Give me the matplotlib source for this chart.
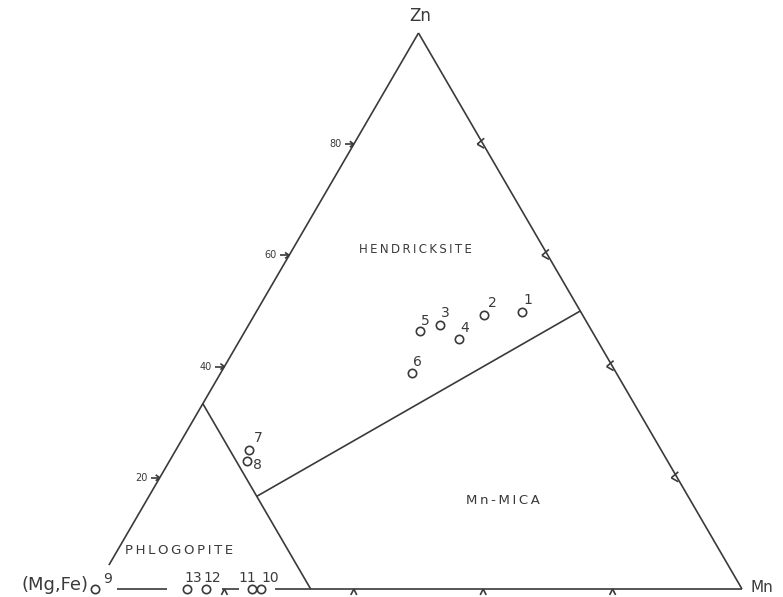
import numpy as np
import matplotlib.pyplot as plt

# compositions (fractions; Mg+Fe = 1 - Zn - Mn)
labels = ["1", "2", "3", "4", "5", "6", "7", "8", "9", "10", "11", "12", "13"]
zn = [0.499, 0.493, 0.475, 0.450, 0.464, 0.389, 0.250, 0.230, 0.0, 0.0, 0.0, 0.0, 0.0]
mn = [0.410, 0.355, 0.295, 0.338, 0.271, 0.295, 0.113, 0.120, 0.0, 0.257, 0.243, 0.171, 0.142]
# label offsets (pixels, right / down) for each sample number
label_off = [(6, -12), (8, -12), (6, -12), (5, -11), (5, -10), (6, -11), (9, -12),
             (10, 4), (13, -10), (9, -11), (-5, -11), (7, -11), (6, -11)]
tick_vals = [0.2, 0.4, 0.6, 0.8]
tick_text = ["20", "40", "60", "80"]

H = np.sqrt(3) / 2
INK = "#3a3a3a"
PX = 1 / 647.0  # one pixel in data units
THIN = "\u2009"


def xy(z, m):
    # ternary -> cartesian, Mg/Fe at left, Mn at right, Zn on top
    return m + z / 2.0, z * H


def seg(ax, a, b):
    ax.plot([a[0], b[0]], [a[1], b[1]], color=INK, lw=1.2,
            solid_capstyle="butt", clip_on=False)


def spaced(s):
    return THIN.join(s)


fig = plt.figure(figsize=(7.83, 5.97), dpi=100)
ax = fig.add_axes([95 / 783, 8 / 597, 647 / 783, 556 / 597])
ax.set_xlim(0, 1)
ax.set_ylim(0, H)
ax.axis("off")

# triangle outline (small gaps near the labelled points, as in the original)
seg(ax, xy(1, 0), xy(0.043, 0))
seg(ax, xy(1, 0), xy(0, 1))
for lo, hi in [(0.034, 0.111), (0.196, 0.222), (0.278, 1.0)]:
    seg(ax, xy(0, lo), xy(0, hi))

# field boundaries: Mg+Fe = 2/3 and Zn = Mn
seg(ax, xy(1 / 3, 0), xy(0, 1 / 3))
seg(ax, xy(1 / 6, 1 / 6), xy(0.5, 0.5))

# ticks
for v, t in zip(tick_vals, tick_text):
    # left edge (Zn scale)
    px_, py_ = xy(v, 0)
    seg(ax, (px_ - 9 * PX, py_), (px_, py_))
    seg(ax, (px_ - 4 * PX, py_ + 3 * PX), (px_, py_))
    seg(ax, (px_ - 4 * PX, py_ - 3 * PX), (px_, py_))
    ax.annotate(t, (px_, py_), xytext=(-9, 0), textcoords="offset points",
                ha="right", va="center", fontsize=7, color=INK)
    # right edge
    rx, ry = xy(v, 1 - v)
    seg(ax, (rx - 6 * PX, ry), (rx + 1 * PX, ry + 6 * PX))
    seg(ax, (rx - 6 * PX, ry), (rx + 1 * PX, ry - 4 * PX))
    # bottom edge
    bx, by = xy(0, v)
    seg(ax, (bx, by), (bx - 3 * PX, by - 6 * PX))
    seg(ax, (bx, by), (bx + 3 * PX, by - 6 * PX))

# samples
for lab, z, m, (dx, dy) in zip(labels, zn, mn, label_off):
    x, y = xy(z, m)
    ax.plot(x, y, "o", ms=6, mfc="white", mec=INK, mew=1.2, clip_on=False, zorder=3)
    ax.annotate(lab, (x, y), xytext=(dx * 0.72, -dy * 0.72), textcoords="offset points",
                ha="center", va="center", fontsize=10, color=INK)

# corner labels
ax.annotate("Zn", xy(1, 0), xytext=(1, 12), textcoords="offset points",
            ha="center", va="center", fontsize=12, color=INK)
ax.annotate("Mn", xy(0, 1), xytext=(6, 1), textcoords="offset points",
            ha="left", va="center", fontsize=11, color=INK)
ax.annotate("(Mg,Fe)", xy(0, 0), xytext=(-5, 3), textcoords="offset points",
            ha="right", va="center", fontsize=13, color=INK)

# field names
ax.text(*xy(0.61, 0.19), spaced("HENDRICKSITE"), ha="center", va="center",
        fontsize=8.5, color=INK)
ax.text(*xy(0.16, 0.55), spaced("Mn-MICA"), ha="center", va="center",
        fontsize=9.5, color=INK)
ax.text(*xy(0.07, 0.095), spaced("PHLOGOPITE"), ha="center", va="center",
        fontsize=9.5, color=INK)

fig.savefig("out.png", dpi=100)
